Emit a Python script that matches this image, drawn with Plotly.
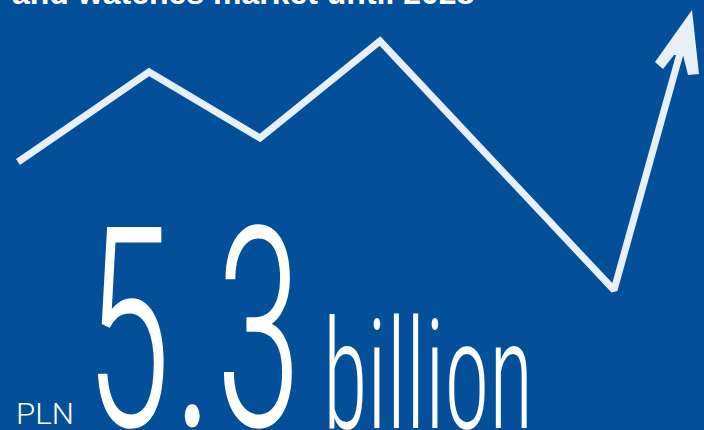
import plotly.graph_objects as go

# Data (pixel-like units of the decorative axes)
trend_x = [18, 149, 260, 380, 614, 681]
trend_y = [162, 72, 138, 41, 290, 50]
arrow_x = [692, 655, 663, 674, 683, 688, 699, 692]
arrow_y = [10, 62, 69, 55, 55, 75, 74, 10]

title_text = "and watches market until 2028"
value_text = "5.3"
unit_text = "billion"
currency_text = "PLN"

BG = "#034F99"
LINE = "#E9EFF7"
WHITE = "#FFFFFF"
BIG_FONT = "Roboto Condensed"

fig = go.Figure()
fig.add_trace(go.Scatter(x=trend_x, y=trend_y, mode="lines",
                         line=dict(color=LINE, width=7), hoverinfo="skip", showlegend=False))
fig.add_trace(go.Scatter(x=arrow_x, y=arrow_y, mode="lines", fill="toself", fillcolor=LINE,
                         line=dict(color=LINE, width=0), hoverinfo="skip", showlegend=False))

fig.add_annotation(x=10, y=1, xref="x", yref="paper", xanchor="left", yanchor="bottom", yshift=-13,
                   text=f"<b>{title_text}</b>", showarrow=False,
                   font=dict(family="Liberation Sans, Arial, sans-serif", size=32, color=WHITE))
fig.add_annotation(x=82, y=164, xref="x", yref="y", xanchor="left", yanchor="top",
                   text=value_text, showarrow=False,
                   font=dict(family=BIG_FONT, size=280, color=WHITE, weight=300))
fig.add_annotation(x=321, y=285, xref="x", yref="y", xanchor="left", yanchor="top",
                   text=unit_text, showarrow=False,
                   font=dict(family=BIG_FONT, size=152, color=WHITE, weight=300))
fig.add_annotation(x=14, y=394, xref="x", yref="y", xanchor="left", yanchor="top",
                   text=currency_text, showarrow=False,
                   font=dict(family="Roboto", size=30, color=WHITE, weight=300))

fig.update_layout(
    width=704, height=430,
    margin=dict(l=0, r=0, t=0, b=0),
    paper_bgcolor=BG, plot_bgcolor=BG,
    xaxis=dict(range=[0, 704], visible=False, fixedrange=True),
    yaxis=dict(range=[430, 0], visible=False, fixedrange=True),
    showlegend=False,
)

post = """
document.body.style.margin = '0';
document.body.style.background = '#034F99';
document.body.style.overflow = 'hidden';
var gd = document.getElementById('{plot_id}');
var S = {"5.3": 0.645, "billion": 0.6, "PLN": 1.04};
gd.querySelectorAll('text.annotation-text').forEach(function(t){
  var k = t.getAttribute('data-unformatted');
  if (S[k]) {
    var b = t.getBBox(); var s = S[k];
    var ex = t.getAttribute('transform') || '';
    t.setAttribute('transform', ex + ' translate(' + b.x + ',0) scale(' + s + ',1) translate(' + (-b.x) + ',0)');
  }
});
"""
fig.write_html("out.html", config={"displayModeBar": False, "staticPlot": True}, post_script=post)
